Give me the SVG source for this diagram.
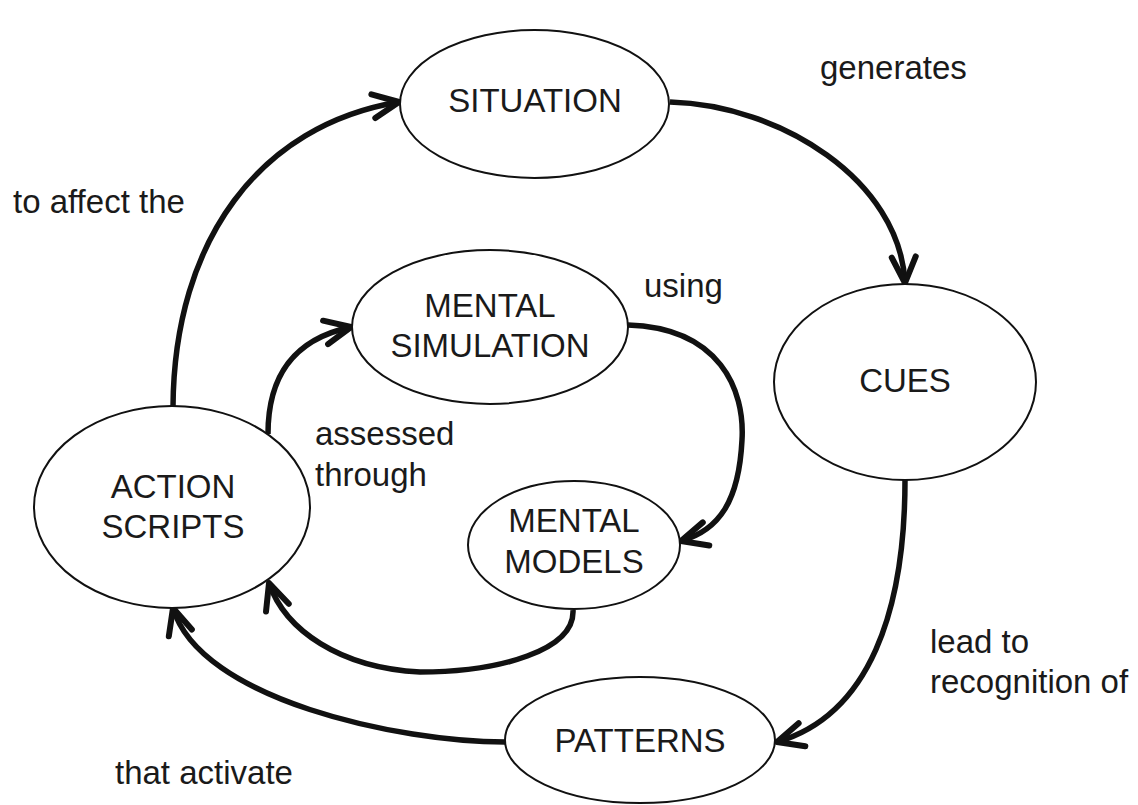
<svg xmlns="http://www.w3.org/2000/svg" width="1138" height="805" viewBox="0 0 1138 805">
<style>
.node ellipse{fill:#fff;stroke:#111;stroke-width:2}
text{font-family:"Liberation Sans",Arial,Helvetica,sans-serif;font-size:33px;fill:#1a1a1a}
.node text{text-anchor:middle}
.conn path{fill:none;stroke:#111;stroke-width:5.5;marker-end:url(#ah)}
</style>
<defs>
<marker id="ah" markerUnits="userSpaceOnUse" orient="auto" refX="0" refY="0" markerWidth="40" markerHeight="40" viewBox="-34 -20 40 40" overflow="visible">
<path d="M-26,-12 L0,0 L-26,12" fill="none" stroke="#111" stroke-width="6" stroke-linejoin="round" stroke-linecap="round"/>
</marker>
</defs>
<rect width="1138" height="805" fill="#fff"/>
<g id="connectors" class="conn">
<path id="c-generates" d="M670,102 C780,105 900,180 905,283"/>
<path id="c-lead" d="M905,480 C905,610 870,715 777,742"/>
<path id="c-activate" d="M505,742 C400,742 200,700 173,608"/>
<path id="c-affect" d="M173,407 C174,240 260,125 399,102"/>
<path id="c-assessed" d="M268,434 C268,380 290,340 351,327"/>
<path id="c-using" d="M628,325 C720,328 745,390 742,440 C739,500 720,530 681,541"/>
<path id="c-models" d="M573,610 C575,650 500,672 420,672 C340,668 285,630 269,583"/>
</g>
<g id="n-situation" class="node"><ellipse cx="534.5" cy="104" rx="134.5" ry="74"/><text x="535" y="112">SITUATION</text></g>
<g id="n-cues" class="node"><ellipse cx="905" cy="382" rx="131" ry="98"/><text x="905" y="392">CUES</text></g>
<g id="n-patterns" class="node"><ellipse cx="640" cy="740" rx="135" ry="63"/><text x="640" y="752">PATTERNS</text></g>
<g id="n-action" class="node"><ellipse cx="172" cy="507" rx="138" ry="101"/><text x="173" y="498">ACTION</text><text x="173" y="538">SCRIPTS</text></g>
<g id="n-simulation" class="node"><ellipse cx="490" cy="327" rx="138" ry="77"/><text x="490" y="317">MENTAL</text><text x="490" y="357">SIMULATION</text></g>
<g id="n-models" class="node"><ellipse cx="574" cy="545" rx="106" ry="64"/><text x="574" y="532">MENTAL</text><text x="574" y="573">MODELS</text></g>
<g id="labels">
<text x="820" y="79">generates</text>
<text x="13" y="213">to affect the</text>
<text x="644" y="297">using</text>
<text x="315" y="445">assessed</text>
<text x="315" y="486">through</text>
<text x="930" y="653">lead to</text>
<text x="930" y="693">recognition of</text>
<text x="115" y="784">that activate</text>
</g>
</svg>
